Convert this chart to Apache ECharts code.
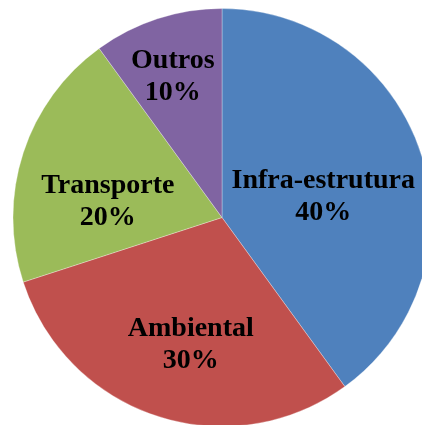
<!DOCTYPE html>
<html>
<head>
<meta charset="utf-8">
<script src="https://cdn.jsdelivr.net/npm/echarts@6/dist/echarts.min.js"></script>
<style>
html,body{margin:0;padding:0;background:#fff;}
#chart{width:422px;height:425px;}
</style>
</head>
<body>
<div id="chart"></div>
<script>
var categories = ['Infra-estrutura', 'Ambiental', 'Transporte', 'Outros'];
var values = [40, 30, 20, 10];
var colors = ['#4F81BD', '#C0504D', '#9BBB59', '#8064A2'];
var labelOffsets = [[-1, 12], [2, 25], [-12, 17], [-16, -38]];

var chart = echarts.init(document.getElementById('chart'), null, {renderer: 'canvas'});
var data = categories.map(function (c, i) {
  return {
    name: c,
    value: values[i],
    itemStyle: {color: colors[i]},
    label: {offset: labelOffsets[i]}
  };
});
chart.setOption({
  animation: false,
  series: [{
    type: 'pie',
    center: [222, 217.5],
    radius: 209,
    startAngle: 90,
    clockwise: true,
    silent: true,
    itemStyle: {borderColor: 'rgba(255,255,255,0.6)', borderWidth: 0.5},
    label: {
      show: true,
      position: 'inside',
      formatter: function (p) { return p.name + '\n' + p.value + '%'; },
      fontFamily: '"Liberation Serif", "Times New Roman", serif',
      fontWeight: 'bold',
      fontSize: 28,
      lineHeight: 32,
      color: '#000'
    },
    labelLine: {show: false},
    data: data
  }]
});
</script>
</body>
</html>
